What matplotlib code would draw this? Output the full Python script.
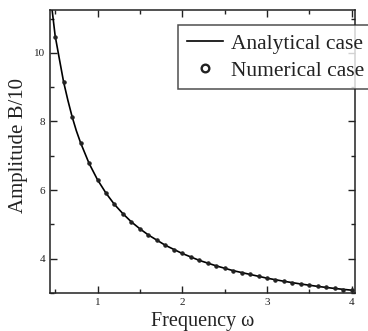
import matplotlib
matplotlib.use("Agg")
import matplotlib.pyplot as plt
from matplotlib.ticker import MultipleLocator

plt.rcParams['font.family'] = ['Liberation Serif', 'DejaVu Serif']

# numerical points
num_w = [0.5, 0.6, 0.7, 0.8, 0.9, 1.0, 1.1, 1.2, 1.3, 1.4, 1.5, 1.6, 1.7, 1.8,
         1.9, 2.0, 2.1, 2.2, 2.3, 2.4, 2.5, 2.6, 2.7, 2.8, 2.9, 3.0, 3.1, 3.2,
         3.3, 3.4, 3.5, 3.6, 3.7, 3.8, 3.9, 4.0]
num_a = [10.45, 9.15, 8.14, 7.38, 6.78, 6.30, 5.91, 5.58, 5.31, 5.07, 4.87,
         4.69, 4.53, 4.39, 4.26, 4.15, 4.05, 3.95, 3.87, 3.79, 3.72, 3.65,
         3.59, 3.54, 3.48, 3.43, 3.39, 3.34, 3.30, 3.26, 3.23, 3.19, 3.16,
         3.13, 3.10, 3.08]

# analytical curve
line_w = [0.42, 0.45, 0.5, 0.55, 0.6, 0.65, 0.7, 0.75, 0.8, 0.9, 1.0, 1.1,
          1.2, 1.3, 1.4, 1.5, 1.6, 1.8, 2.0, 2.2, 2.4, 2.6, 2.8, 3.0, 3.2,
          3.4, 3.6, 3.8, 4.0]
line_a = [12.2, 11.55, 10.5, 9.82, 9.15, 8.62, 8.14, 7.73, 7.38, 6.78, 6.30,
          5.91, 5.58, 5.31, 5.07, 4.87, 4.69, 4.39, 4.15, 3.95, 3.79, 3.65,
          3.54, 3.43, 3.34, 3.26, 3.19, 3.13, 3.08]

fig = plt.figure(figsize=(3.68, 3.31), dpi=100)
ax = fig.add_axes([0.136, 0.115, 0.829, 0.855])

ax.plot(line_w, line_a, color='black', lw=1.2, label='Analytical case')
ax.plot(num_w, num_a, 'o', ms=2.4, mfc='#222222', mec='#222222', mew=0.8,
        label='Numerical case')

ax.set_xlim(0.44, 4.04)
ax.set_ylim(3.0, 11.25)
ax.xaxis.set_major_locator(MultipleLocator(1))
ax.xaxis.set_minor_locator(MultipleLocator(0.5))
ax.yaxis.set_major_locator(MultipleLocator(2))
ax.yaxis.set_minor_locator(MultipleLocator(1))
ax.tick_params(which='both', direction='in', top=True, right=True,
               labelsize=8, width=1, colors='#222222')
ax.tick_params(which='major', length=5)
ax.tick_params(which='minor', length=3)
for s in ax.spines.values():
    s.set_linewidth(1.1)
    s.set_color('#222222')

ax.set_xlabel('Frequency ω', fontsize=14.5, color='#222222')
ax.set_ylabel('Amplitude B/10', fontsize=15, color='#222222')
ax.xaxis.set_label_coords(0.5, -0.067)
ax.yaxis.set_label_coords(-0.105, 0.52)
ax.xaxis.label.set_va('top')
ax.yaxis.label.set_va('center')

h, l = ax.get_legend_handles_labels()
num_h = plt.Line2D([], [], ls='none', marker='o', ms=5.5, mfc='white',
                   mec='#222222', mew=1.7)
leg = fig.legend([h[0], num_h], l, loc='upper left',
                 bbox_to_anchor=(178 / 368, 1 - 25 / 331),
                 fontsize=15.5, frameon=True, fancybox=False,
                 edgecolor='#222222', handlelength=1.7, handletextpad=0.35,
                 borderpad=0.4, labelspacing=0.33, borderaxespad=0)
leg.get_frame().set_linewidth(1.1)
for t in leg.get_texts():
    t.set_color('#222222')

fig.savefig('out.png', dpi=100)
